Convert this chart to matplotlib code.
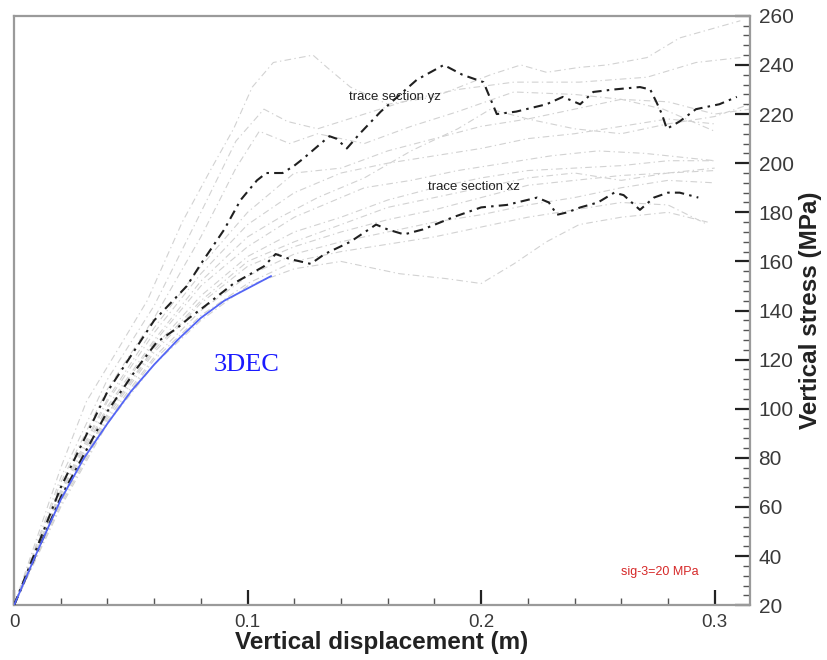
import numpy as np
import matplotlib
matplotlib.use("Agg")
import matplotlib.pyplot as plt
from matplotlib.ticker import MultipleLocator, FixedLocator

plt.rcParams['font.family'] = ['Liberation Sans', 'DejaVu Sans']

# ---------------------------------------------------------------------------
# data
# ---------------------------------------------------------------------------

# 3DEC model curve (blue)
dec_x = [0, 0.01, 0.02, 0.03, 0.04, 0.05, 0.06, 0.07, 0.08, 0.09, 0.10, 0.11]
dec_y = [20, 42, 63, 80, 94, 107, 118, 128, 137, 144, 149, 154]

# trace section yz (black dash-dot)
yz_x = [0, 0.02, 0.04, 0.06, 0.074, 0.080, 0.090, 0.097, 0.104, 0.108, 0.115,
        0.120, 0.124, 0.135, 0.138, 0.1425, 0.148, 0.157, 0.1725, 0.184, 0.192,
        0.201, 0.2067, 0.215, 0.228, 0.235, 0.2424, 0.248, 0.2567, 0.268,
        0.2724, 0.275, 0.2774, 0.2795, 0.285, 0.292, 0.302, 0.3095]
yz_y = [20, 68, 107, 136, 150, 159, 173, 185, 193, 196, 196,
        199, 202, 211, 210, 206, 212, 221, 234, 240, 236,
        233, 220, 221, 224, 227, 224, 229, 230, 231,
        230, 225, 220, 214, 217, 222, 224, 227]

# trace section xz (black dash-dot)
xz_x = [0, 0.02, 0.04, 0.053, 0.061, 0.070, 0.075, 0.082, 0.094, 0.107, 0.112,
        0.118, 0.127, 0.133, 0.144, 0.155, 0.160, 0.167, 0.175, 0.188, 0.200,
        0.211, 0.224, 0.229, 0.2325, 0.237, 0.2425, 0.250, 0.257, 0.261, 0.268,
        0.274, 0.280, 0.285, 0.293]
xz_y = [20, 64, 99, 117, 127, 133, 137, 142, 151, 158, 163,
        161, 159, 163, 168, 175, 173, 171, 173, 178, 182,
        183, 186, 184, 179, 180, 182, 184, 188, 187, 181,
        186, 188, 188, 186]

# other traces (light grey)
g01_x = [0, 0.02, 0.031, 0.045, 0.057, 0.072, 0.084, 0.094, 0.102, 0.111, 0.128,
         0.134, 0.144, 0.16, 0.18, 0.204, 0.217, 0.228, 0.242, 0.254, 0.271,
         0.285, 0.311]
g01_y = [20, 76, 103, 125, 144, 176, 197, 214, 231, 241, 244,
         239, 231, 224, 227, 236, 240, 237, 239, 240, 243,
         251, 258]
g02_x = [0, 0.02, 0.04, 0.06, 0.08, 0.095, 0.107, 0.117, 0.13, 0.15, 0.17,
         0.19, 0.214, 0.228, 0.242, 0.271, 0.292, 0.311]
g02_y = [20, 72, 112, 142, 180, 209, 222, 217, 214, 220, 226,
         230, 233, 233, 233, 235, 241, 243]
g03_x = [0, 0.02, 0.04, 0.06, 0.08, 0.095, 0.105, 0.118, 0.13, 0.15, 0.17,
         0.19, 0.214, 0.24, 0.26, 0.278, 0.30]
g03_y = [20, 70, 108, 137, 170, 198, 213, 208, 212, 208, 215,
         221, 229, 228, 226, 222, 213]
g04_x = [0, 0.02, 0.04, 0.06, 0.08, 0.10, 0.12, 0.14, 0.16, 0.18, 0.20,
         0.22, 0.24, 0.26, 0.28, 0.30, 0.315]
g04_y = [20, 67, 104, 133, 158, 180, 196, 198, 205, 210, 215,
         218, 222, 226, 225, 220, 222]
g05_x = [0, 0.02, 0.04, 0.06, 0.08, 0.10, 0.114, 0.13, 0.15, 0.17, 0.19,
         0.204, 0.22, 0.24, 0.26, 0.28, 0.30, 0.315]
g05_y = [20, 66, 101, 128, 152, 170, 178, 186, 194, 205, 214,
         222, 218, 214, 212, 216, 219, 224]
g06_x = [0, 0.02, 0.04, 0.06, 0.08, 0.10, 0.12, 0.15, 0.17, 0.19, 0.21,
         0.23, 0.25, 0.27, 0.29, 0.30]
g06_y = [20, 65, 100, 127, 150, 166, 178, 190, 193, 197, 200,
         203, 205, 204, 202, 201]
g07_x = [0, 0.02, 0.04, 0.06, 0.08, 0.10, 0.12, 0.14, 0.16, 0.18, 0.20,
         0.22, 0.24, 0.26, 0.28, 0.30]
g07_y = [20, 64, 98, 125, 146, 162, 172, 178, 185, 190, 194,
         197, 198, 199, 201, 201]
g08_x = [0, 0.02, 0.04, 0.06, 0.08, 0.10, 0.12, 0.14, 0.16, 0.18, 0.20,
         0.22, 0.24, 0.26, 0.28, 0.30]
g08_y = [20, 63, 97, 123, 143, 158, 166, 172, 177, 181, 186,
         191, 193, 195, 196, 198]
g09_x = [0, 0.02, 0.04, 0.06, 0.08, 0.10, 0.12, 0.14, 0.16, 0.18, 0.20,
         0.22, 0.24, 0.26, 0.28, 0.30]
g09_y = [20, 62, 96, 121, 140, 154, 163, 168, 172, 176, 179,
         183, 186, 190, 193, 192]
g10_x = [0, 0.02, 0.04, 0.06, 0.08, 0.10, 0.12, 0.14, 0.16, 0.18, 0.20,
         0.22, 0.24, 0.26, 0.28, 0.297]
g10_y = [20, 61, 95, 120, 138, 151, 160, 164, 167, 170, 174,
         178, 181, 184, 183, 175]
g11_x = [0, 0.02, 0.04, 0.06, 0.08, 0.10, 0.12, 0.14, 0.165, 0.185, 0.20,
         0.214, 0.228, 0.242, 0.26, 0.28, 0.297]
g11_y = [20, 60, 94, 118, 136, 150, 157, 160, 155, 153, 151,
         159, 168, 175, 178, 180, 176]
g12_x = [0, 0.02, 0.04, 0.06, 0.08, 0.10, 0.12, 0.14, 0.16, 0.18, 0.20,
         0.22, 0.24, 0.26, 0.28, 0.30]
g12_y = [20, 63, 98, 124, 144, 160, 168, 175, 182, 186, 190,
         194, 196, 193, 196, 197]
g13_x = [0, 0.02, 0.04, 0.06, 0.08, 0.10, 0.12, 0.14, 0.16, 0.18, 0.20,
         0.22, 0.24, 0.26, 0.28, 0.30]
g13_y = [20, 66, 103, 131, 155, 175, 188, 196, 200, 203, 206,
         210, 212, 215, 218, 216]

gray_series = [(g01_x, g01_y), (g02_x, g02_y), (g03_x, g03_y), (g04_x, g04_y),
               (g05_x, g05_y), (g06_x, g06_y), (g07_x, g07_y), (g08_x, g08_y),
               (g09_x, g09_y), (g10_x, g10_y), (g11_x, g11_y), (g12_x, g12_y),
               (g13_x, g13_y)]

x_major = [0, 0.1, 0.2, 0.3]
x_labels = ['0', '0.1', '0.2', '0.3']
y_major = list(range(20, 261, 20))

# ---------------------------------------------------------------------------
# figure
# ---------------------------------------------------------------------------

fig = plt.figure(figsize=(8.28, 6.60), dpi=100)
ax = fig.add_axes([0.017, 0.083, 0.889, 0.893])

gray_style = (0, (6, 3, 1.2, 3))
black_style = (0, (4.5, 2.5, 1.2, 2.5))

for gx, gy in gray_series:
    ax.plot(gx, gy, color='#d2d2d2', lw=0.8, linestyle=gray_style, zorder=1)

ax.plot(yz_x, yz_y, color='#202020', lw=1.5, linestyle=black_style, zorder=3)
ax.plot(xz_x, xz_y, color='#202020', lw=1.5, linestyle=black_style, zorder=3)
ax.plot(dec_x, dec_y, color='#5465f5', lw=1.3, zorder=4)

# annotations
ax.text(0.163, 227, 'trace section yz', fontsize=9.5, color='#222222',
        ha='center', va='center')
ax.text(0.197, 190.5, 'trace section xz', fontsize=9.5, color='#222222',
        ha='center', va='center')
ax.text(0.2767, 33.5, 'sig-3=20 MPa', fontsize=9, color='#d62828',
        ha='center', va='center')
ax.text(0.0994, 118, '3DEC', fontsize=19, color='#1a1aff',
        family='Liberation Serif', ha='center', va='center')

# axes limits and ticks
ax.set_xlim(0, 0.3152)
ax.set_ylim(20, 260)

ax.xaxis.set_major_locator(FixedLocator(x_major))
ax.set_xticklabels(x_labels)
ax.xaxis.set_minor_locator(MultipleLocator(0.02))
ax.yaxis.set_major_locator(FixedLocator(y_major))
ax.yaxis.set_minor_locator(MultipleLocator(4))

ax.yaxis.tick_right()
ax.yaxis.set_label_position('right')

ax.tick_params(axis='both', which='major', direction='in', length=11, width=1.6,
               color='#222222', labelcolor='#3a3a3a')
ax.tick_params(axis='both', which='minor', direction='in', length=5, width=1.0,
               color='#555555')
ax.tick_params(axis='x', which='both', top=False, bottom=True, labelsize=13.5, pad=6)
ax.tick_params(axis='y', which='both', left=False, right=True, labelsize=15, pad=6)

for side in ['left', 'right', 'top', 'bottom']:
    ax.spines[side].set_color('#9a9a9a')
    ax.spines[side].set_linewidth(1.6)

ax.set_xlabel('Vertical displacement (m)', fontsize=17.5, fontweight='bold',
              color='#222222', labelpad=0)
ax.set_ylabel('Vertical stress (MPa)', fontsize=17.5, fontweight='bold',
              color='#222222', labelpad=4)

plt.savefig('out.png', dpi=100)
